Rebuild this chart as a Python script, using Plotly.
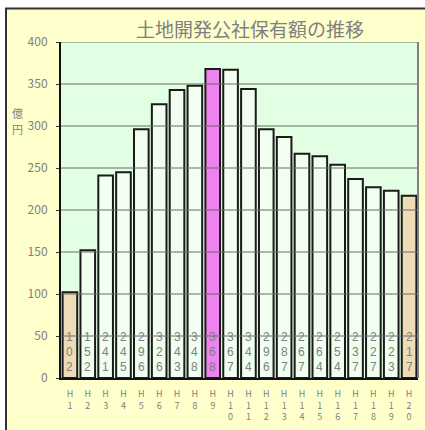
import plotly.graph_objects as go

categories = ["H1", "H2", "H3", "H4", "H5", "H6", "H7", "H8", "H9", "H10",
              "H11", "H12", "H13", "H14", "H15", "H16", "H17", "H18", "H19", "H20"]
values = [102, 152, 241, 245, 296, 326, 343, 348, 368, 367,
          344, 296, 287, 267, 264, 254, 237, 227, 223, 217]
y_ticks = [0, 50, 100, 150, 200, 250, 300, 350, 400]
unit_label = "億円"

base_color = "#F0FFF0"
peak_color = "#EE82EE"
end_color = "#EEDCB6"
colors = []
for i, v in enumerate(values):
    if i == 0 or i == len(values) - 1:
        colors.append(end_color)
    elif v == max(values):
        colors.append(peak_color)
    else:
        colors.append(base_color)

tick_text = ["<br>".join(c) for c in categories]

FONT = "Noto Sans CJK JP"
DIGIT_FONT = "Liberation Sans"
GRAY = "#808080"

fig = go.Figure()
fig.add_trace(go.Bar(
    x=categories, y=values,
    marker=dict(color=colors, line=dict(color="#1a1a1a", width=2)),
    hoverinfo="x+y",
))

shapes = []
# white outer strips (outside the chart frame)
shapes.append(dict(type="rect", xref="paper", yref="paper",
                   x0=-0.3, x1=1.2, y0=(378 - 8) / 336, y1=1.3,
                   fillcolor="white", line=dict(width=0), layer="below"))
shapes.append(dict(type="rect", xref="paper", yref="paper",
                   x0=-0.3, x1=(5 - 61) / 357, y0=-0.3, y1=1.3,
                   fillcolor="white", line=dict(width=0), layer="below"))
# frame lines
shapes.append(dict(type="line", xref="paper", yref="paper",
                   x0=(5 - 61) / 357, x1=1.2, y0=(378 - 8.5) / 336, y1=(378 - 8.5) / 336,
                   line=dict(color="#333333", width=2), layer="below"))
shapes.append(dict(type="line", xref="paper", yref="paper",
                   x0=(6 - 61) / 357, x1=(6 - 61) / 357, y0=-0.3, y1=(378 - 8.5) / 336,
                   line=dict(color="#333333", width=2), layer="below"))
# gridlines drawn above bars
for t in y_ticks[1:]:
    shapes.append(dict(type="line", xref="paper", yref="y", x0=0, x1=1, y0=t, y1=t,
                       line=dict(color="#6a6a6a", width=1), layer="above"))
# right border of plot area
shapes.append(dict(type="line", xref="paper", yref="paper", x0=1, x1=1, y0=0, y1=1,
                   line=dict(color="#808080", width=2), layer="above"))

annotations = []
# vertical unit label, one character per line
for k, ch in enumerate(unit_label):
    annotations.append(dict(text=ch, xref="paper", yref="paper",
                            x=(17 - 61) / 357, y=(378 - 121) / 336,
                            xanchor="center", yanchor="middle",
                            yshift=8 - 16 * k, showarrow=False,
                            font=dict(family=FONT, size=11, color=GRAY)))
# value labels: stacked digits sitting on the baseline inside each bar
for c, v in zip(categories, values):
    digits = str(v)
    n = len(digits)
    for k, d in enumerate(digits):
        annotations.append(dict(text=d, x=c, y=y_ticks[0], xref="x", yref="y",
                                xanchor="center", yanchor="middle",
                                yshift=11 + 15 * (n - 1 - k),
                                showarrow=False, borderpad=0,
                                font=dict(family=DIGIT_FONT, size=12, color=GRAY)))

fig.update_layout(
    width=425, height=430,
    margin=dict(l=61, r=7, t=42, b=52),
    paper_bgcolor="#FFFFCC",
    plot_bgcolor="#E3FFE3",
    bargap=0.18,
    showlegend=False,
    font=dict(family=FONT, color=GRAY),
    title=dict(text="土地開発公社保有額の推移", x=0.588, xanchor="center",
               y=1 - 30 / 430, yanchor="middle",
               font=dict(family=FONT, size=19, color=GRAY)),
    xaxis=dict(tickmode="array", tickvals=categories, ticktext=tick_text,
               range=[-0.5, len(categories) - 0.5],
               tickfont=dict(family=FONT, size=9, color=GRAY),
               showline=True, linecolor="#111111", linewidth=2,
               showgrid=False, ticks="", tickangle=0, ticklabelstandoff=6),
    yaxis=dict(range=[0, 400], tickvals=y_ticks,
               tickfont=dict(family=FONT, size=12, color=GRAY),
               showline=True, linecolor="#111111", linewidth=2,
               showgrid=False, zeroline=False, ticks="outside", ticklen=3,
               tickcolor="#333333", ticklabelstandoff=6),
    shapes=shapes,
    annotations=annotations,
)

fig.write_html("out.html")
